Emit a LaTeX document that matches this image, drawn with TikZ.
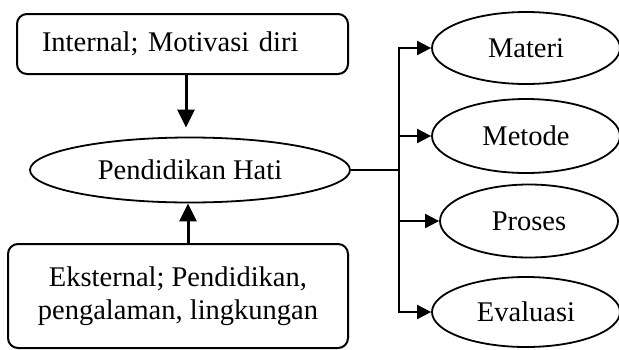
\documentclass[tikz,border=0pt]{standalone}
\usepackage{fontspec}
\setmainfont{Liberation Serif}
\usetikzlibrary{shapes.geometric,arrows.meta}

\begin{document}
\begin{tikzpicture}[x=1pt, y=-1pt,
        font=\fontsize{28.5}{33}\selectfont,
        kotak/.style={draw, line width=2pt, rounded corners=10pt},
        elips/.style={draw, ellipse, line width=1.8pt, inner sep=0pt},
        panah/.style={-{Triangle[length=18pt,width=17pt]}, line width=3pt},
        cabang/.style={-{Triangle[length=14pt,width=14pt]}, line width=2pt}]
        \useasboundingbox (0,0) rectangle (619,349);
        \def\xk{526}
        % Nodes
        \node[kotak, minimum height=60pt, text width=281pt, inner xsep=25pt, align=left] (I) at (182.5,44) {Internal; Motivasi diri};
        \node[elips, minimum width=320pt, minimum height=65pt] (H) at (190,170) {Pendidikan Hati};
        \node[kotak, minimum width=340pt, minimum height=104pt, align=center] (E) at (178,296) {Eksternal; Pendidikan,\\pengalaman, lingkungan};
        \coordinate (J) at (399,170);
        \node[elips, minimum width=188pt, minimum height=72pt] (M) at (\xk,48) {Materi};
        \node[elips, minimum width=188pt, minimum height=74pt] (D) at (\xk,136) {Metode};
        \node[elips, minimum width=178pt, minimum height=73pt] (P) at (529,221) {Proses};
        \node[elips, minimum width=188pt, minimum height=70pt] (V) at (\xk,312) {Evaluasi};
        % Arrows
        \path[panah, shorten >=9pt] (I.south -| 186,0) edge (H.north -| 186,0);
        \path[panah] (E.north -| 188,0) edge (H.south -| 188,0);
        \draw[line width=2pt] (H.east) -- (J);
        \draw[cabang] (J) |- (M.west);
        \draw[cabang] (J) |- (D.west);
        \draw[cabang] (J) |- (P.west);
        \draw[cabang] (J) |- (V.west);
    \end{tikzpicture}
\end{document}
